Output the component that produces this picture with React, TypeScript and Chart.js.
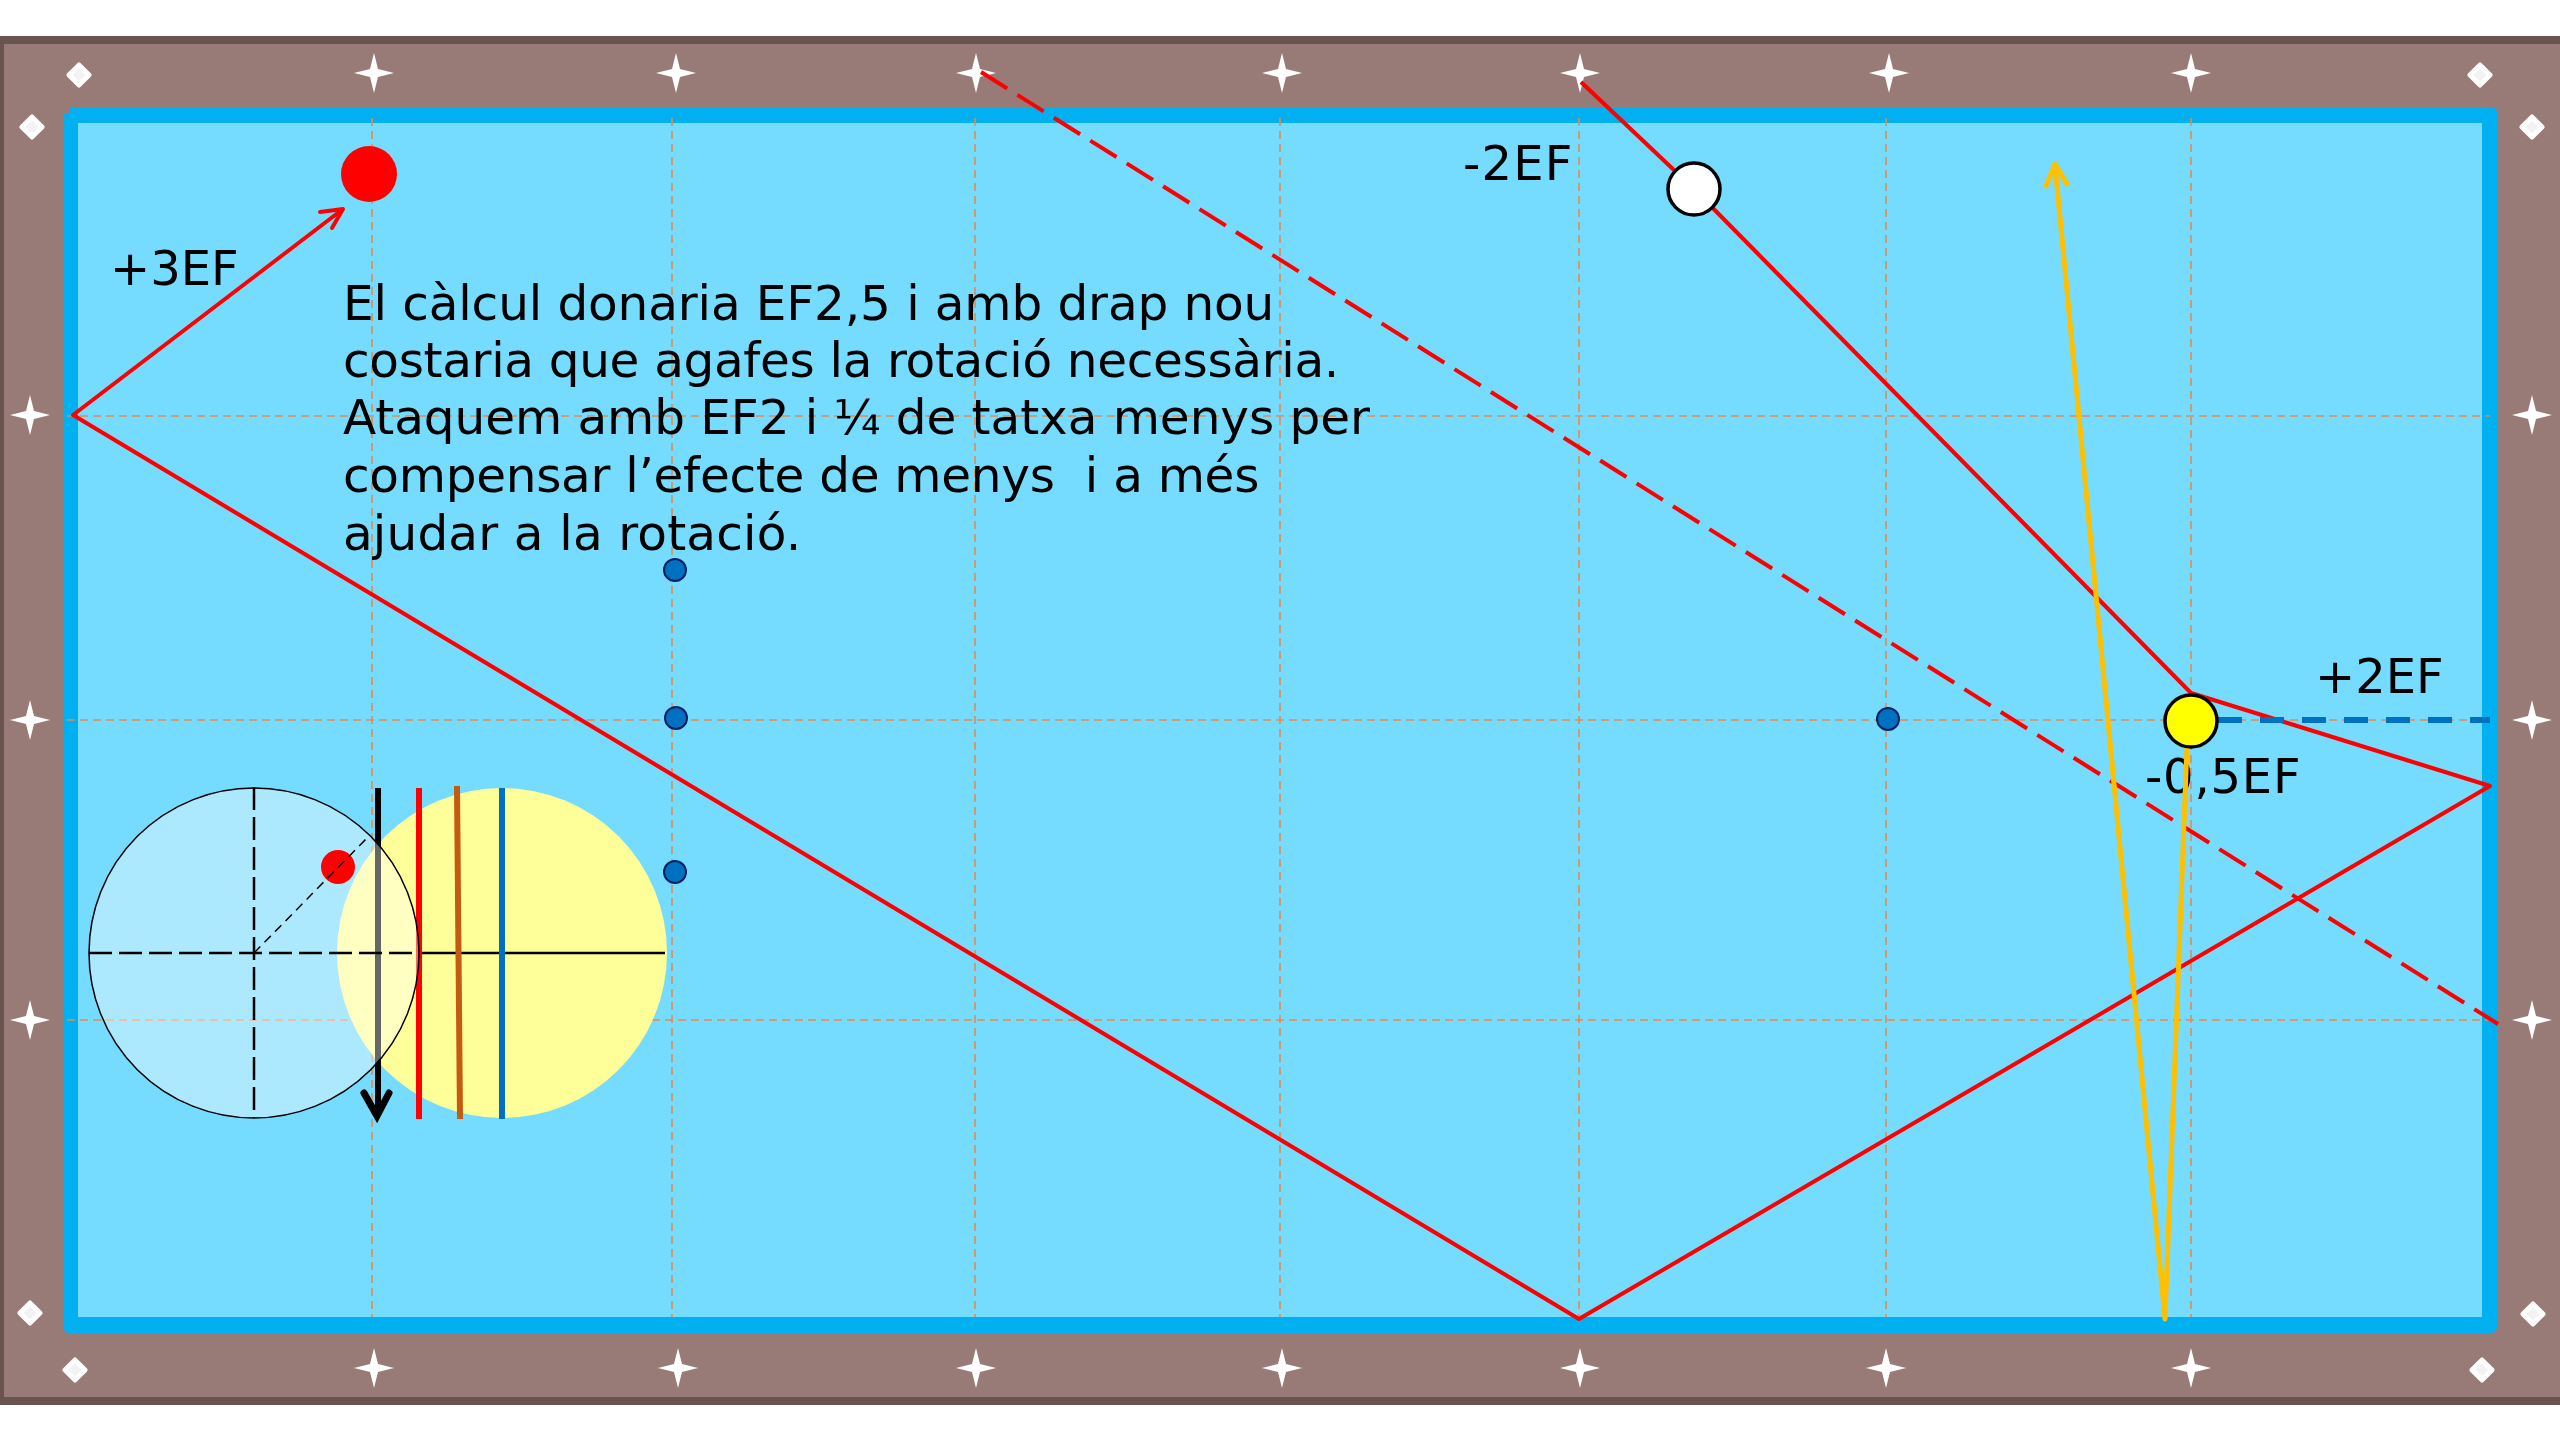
import React, { useEffect, useRef } from "react";
import { Chart, registerables } from "chart.js";

Chart.register(...registerables);

type P = { x: number; y: number };
const pts = (a: number[][]): P[] => a.map(([x, y]) => ({ x, y }));

// Table outline
const frameOuter = [[0, 36], [2560, 36], [2560, 1405], [0, 1405]];
const frameInner = [[4, 44], [2560, 44], [2560, 1397], [4, 1397]];
const cushion = [[69, 113], [2491, 113], [2491, 1327], [69, 1327], [69, 113]];
const cloth = [[78, 123], [2482, 123], [2482, 1317], [78, 1317]];

// Guide lines
const gridColumns = [372, 672, 975, 1280, 1579, 1886, 2191];
const gridRows = [416, 720, 1020];

// Diamonds (sights) on the rail
const starsTop = [[374, 73], [676, 73], [976, 73], [1282, 73], [1580, 73], [1889, 73], [2191, 73]];
const starsBottom = [[374, 1368], [678, 1368], [976, 1368], [1282, 1368], [1580, 1368], [1886, 1368], [2191, 1368]];
const starsLeft = [[30, 415], [30, 720], [30, 1020]];
const starsRight = [[2532, 415], [2532, 720], [2532, 1020]];
const cornerMarks = [[79, 75], [32, 127], [2480, 75], [2532, 127], [30, 1313], [75, 1370], [2533, 1314], [2482, 1370]];

// Ball paths
const cuePath = [[1581, 82], [1694, 189], [2191, 693], [2490, 786], [1579, 1319], [73, 415], [343, 209]];
const cueArrow = [[320, 212], [343, 209], [332, 228]];
const dashedPath = [[981, 72], [2498, 1024]];
const yellowPath = [[2187, 745], [2165, 1319], [2055, 165]];
const yellowArrow = [[2046, 186], [2055, 164], [2067, 184]];
const bluePath = [[2218, 720], [2490, 720]];

// Balls and markers
const redBall = [[369, 174]];
const whiteBall = [[1694, 189]];
const yellowBall = [[2191, 721]];
const blueDots = [[675, 570], [676, 718], [1888, 719], [675, 872]];

// Spin inset
const insetYellow = [[502, 953]];
const insetCue = [[254, 953]];
const insetContact = [[338, 867]];
const insetSolid = [[417, 953], [665, 953]];
const insetDashH = [[89, 953], [417, 953]];
const insetDashV = [[254, 787], [254, 1118]];
const insetDiag = [[254, 953], [370, 835]];
const insetBlack = [[378, 788], [378, 1112]];
const insetBlackHead = [[364, 1093], [377, 1116], [389, 1093]];
const insetRed = [[419, 788], [419, 1119]];
const insetBrown = [[457, 786], [460, 1119]];
const insetBlue = [[502, 788], [502, 1119]];

// Text
const note = [
  "El càlcul donaria EF2,5 i amb drap nou",
  "costaria que agafes la rotació necessària.",
  "Ataquem amb EF2 i ¼ de tatxa menys per",
  "compensar l’efecte de menys  i a més",
  "ajudar a la rotació.",
];
const noteBaselines = [320, 377, 434, 492, 550];
const noteSpacing = [-0.13, -0.35, -0.08, -0.3, 0.15];
const labels: [string, number, number, number][] = [
  ["+3EF", 110, 285, 0],
  ["-2EF", 1463, 180, 1.2],
  ["+2EF", 2315, 693, 0],
  ["-0,5EF", 2145, 793, 0.8],
];

const makeStar = () => {
  const c = document.createElement("canvas");
  c.width = c.height = 44;
  const g = c.getContext("2d")!;
  const m = 22, r = 20, k = 4;
  g.fillStyle = "#fff";
  g.beginPath();
  g.moveTo(m, m - r);
  g.lineTo(m + k, m - k);
  g.lineTo(m + r, m);
  g.lineTo(m + k, m + k);
  g.lineTo(m, m + r);
  g.lineTo(m - k, m + k);
  g.lineTo(m - r, m);
  g.lineTo(m - k, m - k);
  g.closePath();
  g.fill();
  return c;
};

const makeDiamond = () => {
  const c = document.createElement("canvas");
  c.width = c.height = 28;
  const g = c.getContext("2d")!;
  g.translate(14, 14);
  g.rotate(Math.PI / 4);
  g.fillStyle = "#fff";
  g.strokeStyle = "#fff";
  g.lineJoin = "round";
  g.lineWidth = 4;
  g.fillRect(-7.5, -7.5, 15, 15);
  g.strokeRect(-7.5, -7.5, 15, 15);
  g.fillStyle = "#f2f2f2";
  g.fillRect(-4.5, -4.5, 9, 9);
  return c;
};

const shape = (a: number[][], color: string, extra: any = {}) => ({
  data: pts(a),
  showLine: true,
  fill: "shape",
  backgroundColor: color,
  borderWidth: 0,
  pointRadius: 0,
  ...extra,
});

const line = (a: number[][], color: string, width: number, extra: any = {}) => ({
  data: pts(a),
  showLine: true,
  fill: false,
  borderColor: color,
  borderWidth: width,
  pointRadius: 0,
  tension: 0,
  ...extra,
});

const dots = (a: number[][], radius: number, fillColor: string, borderColor = "transparent", borderWidth = 0, pointStyle: any = "circle") => ({
  data: pts(a),
  showLine: false,
  pointStyle,
  pointRadius: radius,
  pointBackgroundColor: fillColor,
  pointBorderColor: borderColor,
  pointBorderWidth: borderWidth,
});

export default function App() {
  const ref = useRef<HTMLCanvasElement>(null);

  useEffect(() => {
    const star = makeStar();
    const diamond = makeDiamond();
    const gridColor = "#E58A4E";
    const gridDash = { borderDash: [8, 5] };
    const red = "#FF0000";
    const amber = "#FFC000";
    const blue = "#0070C0";
    const round = { borderCapStyle: "round", borderJoinStyle: "round" };

    const under: any[] = [
      shape(frameOuter, "#6A5450"),
      shape(frameInner, "#987B77"),
      shape(cushion, "#00B0F0", { borderColor: "#00B0F0", borderWidth: 12, borderJoinStyle: "round" }),
      shape(cloth, "#75DBFF"),
      ...gridColumns.map((x) => line([[x, 118], [x, 1317]], gridColor, 1.6, gridDash)),
      ...gridRows.map((y) => line([[67, y], [2490, y]], gridColor, 1.6, gridDash)),
      dots(starsTop, 20, "#fff", "transparent", 0, star),
      dots(starsBottom, 20, "#fff", "transparent", 0, star),
      dots(starsLeft, 20, "#fff", "transparent", 0, star),
      dots(starsRight, 20, "#fff", "transparent", 0, star),
      dots(cornerMarks, 12, "#fff", "transparent", 0, diamond),
      dots(blueDots, 11, blue, "#002060", 2),
      dots(insetYellow, 165, "#FFFF99"),
      line(insetSolid, "#000", 2.5),
      line(insetRed, red, 6),
      line(insetBrown, "#C55A11", 6),
      line(insetBlue, blue, 6),
      line(insetBlack, "#000", 6),
      line(insetBlackHead, "#000", 7, { borderCapStyle: "round", borderJoinStyle: "miter" }),
      dots(insetCue, 165, "rgba(255,255,255,0.4)", "#000", 1.5),
      dots(insetContact, 17, red),
      line(insetDashH, "#000", 2.5, { borderDash: [23, 7] }),
      line(insetDashV, "#000", 2.5, { borderDash: [23, 7] }),
      line(insetDiag, "#000", 1.5, { borderDash: [9, 6] }),
    ];
    const textIndex = under.length;
    const over: any[] = [
      line(dashedPath, red, 4, { borderDash: [31, 12] }),
      line(cuePath, red, 4, { borderJoinStyle: "round" }),
      line(cueArrow, red, 4, round),
      line(bluePath, blue, 6, { borderDash: [24, 18] }),
      line(yellowPath, amber, 5, { borderJoinStyle: "round" }),
      line(yellowArrow, amber, 5, round),
      dots(redBall, 28, red),
      dots(whiteBall, 26, "#fff", "#000", 3.5),
      dots(yellowBall, 26, "#FFFF00", "#000", 3.5),
    ];
    const all = [...under, ...over];
    all.forEach((d, i) => {
      d.order = all.length - i;
      d.clip = false;
    });

    const textPlugin = {
      id: "tableText",
      beforeDatasetDraw(chart: any, args: any) {
        if (args.index !== textIndex) return;
        const { ctx, scales } = chart;
        ctx.save();
        ctx.fillStyle = "#000";
        ctx.textAlign = "left";
        ctx.textBaseline = "alphabetic";
        ctx.font = '48.5px "DejaVu Sans"';
        note.forEach((t, i) => {
          ctx.letterSpacing = `${noteSpacing[i]}px`;
          ctx.fillText(t, scales.x.getPixelForValue(343), scales.y.getPixelForValue(noteBaselines[i]));
        });
        ctx.font = '48px "DejaVu Sans"';
        labels.forEach(([t, x, y, s]) => {
          ctx.letterSpacing = `${s}px`;
          ctx.fillText(t, scales.x.getPixelForValue(x), scales.y.getPixelForValue(y));
        });
        ctx.restore();
      },
    };

    const chart = new Chart(ref.current!, {
      type: "scatter",
      data: { datasets: all },
      plugins: [textPlugin],
      options: {
        responsive: false,
        animation: false,
        events: [],
        layout: { padding: 0, autoPadding: false },
        elements: { line: { tension: 0 } },
        plugins: { legend: { display: false }, tooltip: { enabled: false }, title: { display: false } },
        scales: {
          x: { type: "linear", min: 0, max: 2560, display: false },
          y: { type: "linear", min: 0, max: 1440, reverse: true, display: false },
        },
      },
    } as any);
    return () => chart.destroy();
  }, []);

  return (
    <div style={{ position: "fixed", left: 0, top: 0, width: 2560, height: 1440, background: "#fff" }}>
      <canvas ref={ref} width={2560} height={1440} style={{ display: "block" }} />
    </div>
  );
}
